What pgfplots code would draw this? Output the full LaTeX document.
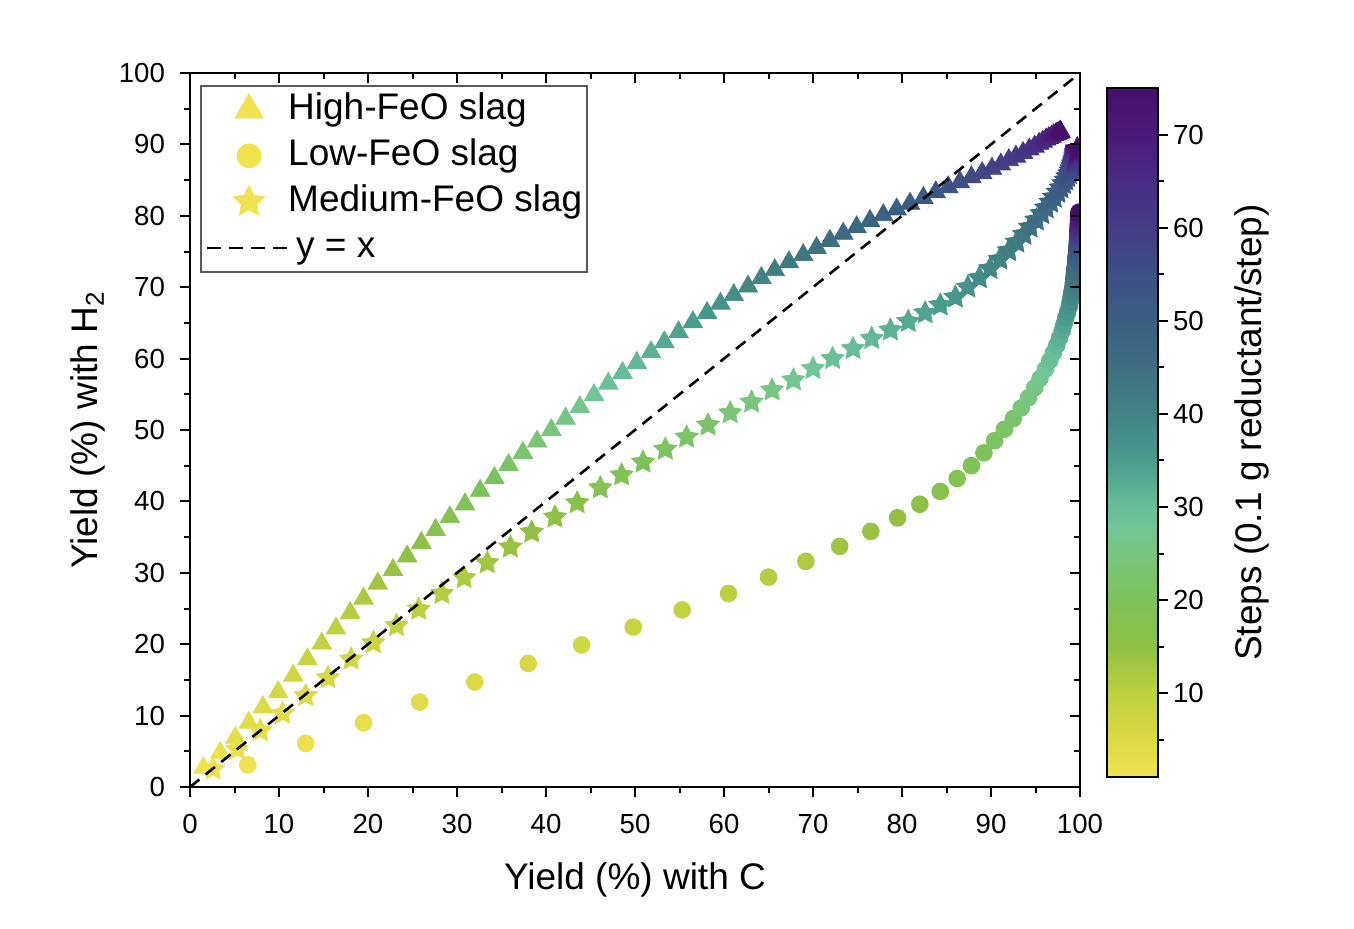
\documentclass[border=0pt]{standalone}
\usepackage{fontspec}
\setmainfont{Liberation Sans}
\usepackage{pgfplots}
\usepackage{pgfplotstable}
\pgfplotsset{compat=1.18}

\definecolor{yl}{RGB}{241,226,80}

\pgfdeclareplotmark{fstar}{%
  \pgfpathmoveto{\pgfpointpolar{90}{\pgfplotmarksize}}%
  \pgfpathlineto{\pgfpointpolar{126}{0.5\pgfplotmarksize}}%
  \pgfpathlineto{\pgfpointpolar{162}{\pgfplotmarksize}}%
  \pgfpathlineto{\pgfpointpolar{198}{0.5\pgfplotmarksize}}%
  \pgfpathlineto{\pgfpointpolar{234}{\pgfplotmarksize}}%
  \pgfpathlineto{\pgfpointpolar{270}{0.5\pgfplotmarksize}}%
  \pgfpathlineto{\pgfpointpolar{306}{\pgfplotmarksize}}%
  \pgfpathlineto{\pgfpointpolar{342}{0.5\pgfplotmarksize}}%
  \pgfpathlineto{\pgfpointpolar{18}{\pgfplotmarksize}}%
  \pgfpathlineto{\pgfpointpolar{54}{0.5\pgfplotmarksize}}%
  \pgfpathclose
  \pgfusepathqfillstroke
}

\pgfplotstableread{
s x y
1 1.5 2.7
2 3.4 4.8
3 5.1 6.9
4 6.6 9.0
5 8.2 11.2
6 9.9 13.3
7 11.6 15.6
8 13.2 17.9
9 14.8 20.1
10 16.4 22.2
11 18.0 24.4
12 19.5 26.4
13 21.1 28.5
14 22.8 30.4
15 24.4 32.3
16 26.0 34.2
17 27.6 36.0
18 29.2 37.8
19 30.9 39.6
20 32.6 41.5
21 34.2 43.3
22 35.8 45.1
23 37.4 46.8
24 39.0 48.4
25 40.6 50.0
26 42.2 51.6
27 43.8 53.2
28 45.4 54.9
29 47.0 56.5
30 48.6 58.0
31 50.2 59.4
32 51.8 60.9
33 53.3 62.3
34 54.9 63.7
35 56.5 65.1
36 58.1 66.4
37 59.6 67.7
38 61.1 68.9
39 62.7 70.1
40 64.2 71.3
41 65.7 72.4
42 67.3 73.5
43 68.9 74.5
44 70.4 75.5
45 71.9 76.5
46 73.4 77.5
47 74.9 78.4
48 76.4 79.3
49 77.9 80.1
50 79.4 80.9
51 80.9 81.7
52 82.4 82.5
53 83.8 83.3
54 85.2 84.0
55 86.5 84.7
56 87.8 85.4
57 89.0 86.0
58 90.1 86.6
59 91.1 87.2
60 92.0 87.8
61 92.8 88.3
62 93.6 88.8
63 94.3 89.3
64 94.9 89.7
65 95.4 90.1
66 95.8 90.4
67 96.2 90.7
68 96.5 90.9
69 96.8 91.1
70 97.05 91.3
71 97.25 91.4
72 97.4 91.5
73 97.55 91.6
74 97.7 91.7
75 97.8 91.8
}\high

\pgfplotstableread{
s x y
1 6.5 3.1
2 13.0 6.1
3 19.5 9.0
4 25.8 11.9
5 32.0 14.7
6 38.0 17.3
7 44.0 19.9
8 49.8 22.4
9 55.3 24.8
10 60.5 27.1
11 65.0 29.4
12 69.2 31.6
13 73.0 33.7
14 76.5 35.8
15 79.5 37.7
16 82.0 39.6
17 84.3 41.4
18 86.2 43.2
19 87.8 45.0
20 89.2 46.8
21 90.4 48.5
22 91.5 50.1
23 92.5 51.6
24 93.4 53.1
25 94.2 54.5
26 94.9 55.9
27 95.5 57.2
28 96.1 58.5
29 96.6 59.7
30 97.0 60.8
31 97.4 61.9
32 97.7 62.9
33 98.0 63.9
34 98.2 64.8
35 98.4 65.7
36 98.6 66.5
37 98.8 67.3
38 98.9 68.0
39 99.0 68.7
40 99.1 69.4
41 99.2 70.0
42 99.25 70.6
43 99.3 71.2
44 99.35 71.8
45 99.4 72.3
46 99.45 72.8
47 99.5 73.3
48 99.52 73.8
49 99.55 74.2
50 99.6 74.6
51 99.62 75.0
52 99.64 75.3
53 99.66 75.6
54 99.68 75.9
55 99.70 76.2
56 99.72 76.5
57 99.73 76.8
58 99.74 77.0
59 99.75 77.3
60 99.76 77.5
61 99.77 77.7
62 99.78 77.9
63 99.79 78.1
64 99.80 78.3
65 99.81 78.5
66 99.82 78.7
67 99.83 78.9
68 99.84 79.1
69 99.85 79.3
70 99.86 79.5
71 99.87 79.7
72 99.87 79.9
73 99.88 80.1
74 99.88 80.3
75 99.89 80.5
}\low

\pgfplotstableread{
s x y
1 2.6 2.5
2 5.3 5.3
3 7.9 7.9
4 10.4 10.3
5 13.0 12.8
6 15.5 15.3
7 18.1 17.9
8 20.6 20.2
9 23.2 22.6
10 25.7 24.9
11 28.3 27.1
12 30.8 29.3
13 33.4 31.4
14 36.0 33.6
15 38.4 35.7
16 41.0 37.8
17 43.5 39.8
18 46.1 41.9
19 48.5 43.7
20 50.9 45.5
21 53.4 47.3
22 55.8 49.0
23 58.2 50.7
24 60.7 52.4
25 63.1 53.9
26 65.4 55.6
27 67.8 57.0
28 70.0 58.6
29 72.2 60.0
30 74.5 61.4
31 76.6 62.8
32 78.7 64.0
33 80.7 65.2
34 82.6 66.4
35 84.3 67.5
36 86.0 68.6
37 87.4 70.0
38 88.7 71.3
39 89.9 72.6
40 91.0 73.9
41 92.0 75.1
42 92.9 76.3
43 93.7 77.4
44 94.4 78.4
45 95.1 79.4
46 95.7 80.3
47 96.2 81.1
48 96.7 81.9
49 97.1 82.6
50 97.5 83.3
51 97.85 83.9
52 98.15 84.5
53 98.4 85.0
54 98.6 85.5
55 98.8 85.9
56 98.95 86.3
57 99.05 86.6
58 99.15 86.9
59 99.25 87.2
60 99.3 87.4
61 99.35 87.6
62 99.4 87.8
63 99.45 88.0
64 99.5 88.15
65 99.5 88.3
66 99.55 88.45
67 99.55 88.6
68 99.6 88.7
69 99.6 88.8
70 99.6 88.9
71 99.65 89.0
72 99.65 89.1
73 99.65 89.2
74 99.7 89.3
75 99.7 89.4
}\medium

\begin{document}
\begin{tikzpicture}
\path[use as bounding box] (-95pt,-70.5pt) rectangle (582pt,393.5pt);

\begin{axis}[
  at={(0pt,0pt)}, anchor=south west,
  scale only axis, width=445pt, height=357pt,
  xmin=0, xmax=100, ymin=0, ymax=100,
  xtick={0,10,...,100}, ytick={0,10,...,100},
  minor x tick num=1, minor y tick num=1,
  xtick pos=left, ytick pos=left,
  tick align=outside,
  major tick length=5pt, minor tick length=3pt,
  tick style={black, line width=1pt},
  axis line style={line width=1.2pt},
  ticklabel style={font=\fontsize{13.8}{16}\selectfont},
  xticklabel style={yshift=-5pt},
  yticklabel style={xshift=-4pt},
  /pgf/number format/assume math mode=true,
  xlabel={Yield (\%) with C},
  ylabel={Yield (\%) with H\textsubscript{2}},
  label style={font=\fontsize{18.5}{22}\selectfont},
  xlabel style={at={(axis description cs:0.5,-0.1303)}, anchor=center},
  ylabel style={at={(axis description cs:-0.1146,0.5)}, anchor=center},
  colormap={steps}{
    rgb255(1)=(241,226,80)
    rgb255(5)=(220,218,70)
    rgb255(10)=(190,208,64)
    rgb255(15)=(145,192,68)
    rgb255(20)=(125,195,90)
    rgb255(25)=(121,197,125)
    rgb255(28)=(112,198,150)
    rgb255(31)=(98,184,152)
    rgb255(35)=(74,156,142)
    rgb255(40)=(66,131,131)
    rgb255(45)=(62,110,128)
    rgb255(50)=(58,95,131)
    rgb255(55)=(61,80,133)
    rgb255(60)=(68,60,133)
    rgb255(65)=(71,45,132)
    rgb255(70)=(74,26,120)
    rgb255(75)=(72,15,106)
  },
  point meta min=1, point meta max=75,
  colorbar,
  colorbar shift/.style={},
  colorbar/width=25.5pt,
  colorbar style={
    at={(parent axis.south east)}, anchor=south west,
    xshift=13.5pt, yshift=5pt,
    scale only axis, width=25.5pt, height=344.5pt,
    ytick={10,20,...,70}, minor ytick={5,15,...,65},
    ytick pos=right, yticklabel pos=right, tick align=outside,
    major tick length=5pt, minor tick length=3pt,
    tick style={black, line width=1pt},
    axis line style={line width=1.2pt},
    ticklabel style={font=\fontsize{13.8}{16}\selectfont},
    yticklabel style={xshift=-1pt},
    /pgf/number format/assume math mode=true,
    ylabel={Steps (0.1 g reductant/step)},
    ylabel style={font=\fontsize{18.5}{22}\selectfont, at={(axis description cs:2.843,0.5)}, anchor=center},
  },
  clip marker paths=true,
  legend cell align=left,
  legend style={at={(0,1)}, anchor=north west, xshift=5pt, yshift=-6pt,
    draw=black!65, line width=0.8pt, font=\fontsize{18.5}{22}\selectfont,
    inner xsep=2.5pt, inner ysep=3pt, row sep=5pt,
    nodes={inner ysep=0pt, inner xsep=0pt, text height=14pt, text depth=4pt}},
]
\addlegendimage{legend image code/.code={\draw[yl,fill=yl] plot[only marks, mark=triangle*, mark size=7.7pt] coordinates {(21pt,0pt)};}}
\addlegendentry{High-FeO slag}
\addlegendimage{legend image code/.code={\draw[yl,fill=yl] plot[only marks, mark=*, mark size=5.8pt] coordinates {(21pt,0pt)};}}
\addlegendentry{Low-FeO slag}
\addlegendimage{legend image code/.code={\draw[yl,fill=yl] plot[only marks, mark=fstar, mark size=7.7pt] coordinates {(21pt,0pt)};}}
\addlegendentry{Medium-FeO slag}
\addlegendimage{legend image code/.code={\draw[black, line width=1.2pt, dash pattern=on 7pt off 4pt] (0pt,0pt) -- (40pt,0pt);}}
\addlegendentry{\hspace{4pt}y = x}

\addplot[scatter, only marks, mark=triangle*, mark size=5.6pt, point meta=explicit,
  scatter/use mapped color={draw=mapped color, fill=mapped color}, forget plot]
  table[x=x, y=y, meta=s] {\high};
\addplot[scatter, only marks, mark=*, mark size=4.2pt, point meta=explicit,
  scatter/use mapped color={draw=mapped color, fill=mapped color}, forget plot]
  table[x=x, y=y, meta=s] {\low};
\addplot[scatter, only marks, mark=fstar, mark size=6pt, point meta=explicit,
  scatter/use mapped color={draw=mapped color, fill=mapped color}, forget plot]
  table[x=x, y=y, meta=s] {\medium};
\addplot[black, line width=1.3pt, dash pattern=on 6pt off 4pt, forget plot]
  coordinates {(0,0) (100,100)};
\end{axis}

\begin{axis}[
  at={(0pt,0pt)}, anchor=south west,
  scale only axis, width=445pt, height=357pt,
  xmin=0, xmax=100, ymin=0, ymax=100,
  xtick={0,10,...,100}, ytick={0,10,...,100},
  minor x tick num=1, minor y tick num=1,
  xtick pos=right, ytick pos=right,
  xticklabels={}, yticklabels={},
  tick align=inside,
  major tick length=5pt, minor tick length=3pt,
  tick style={black, line width=1pt},
  axis line style={line width=1.2pt},
]
\end{axis}
\end{tikzpicture}
\end{document}
